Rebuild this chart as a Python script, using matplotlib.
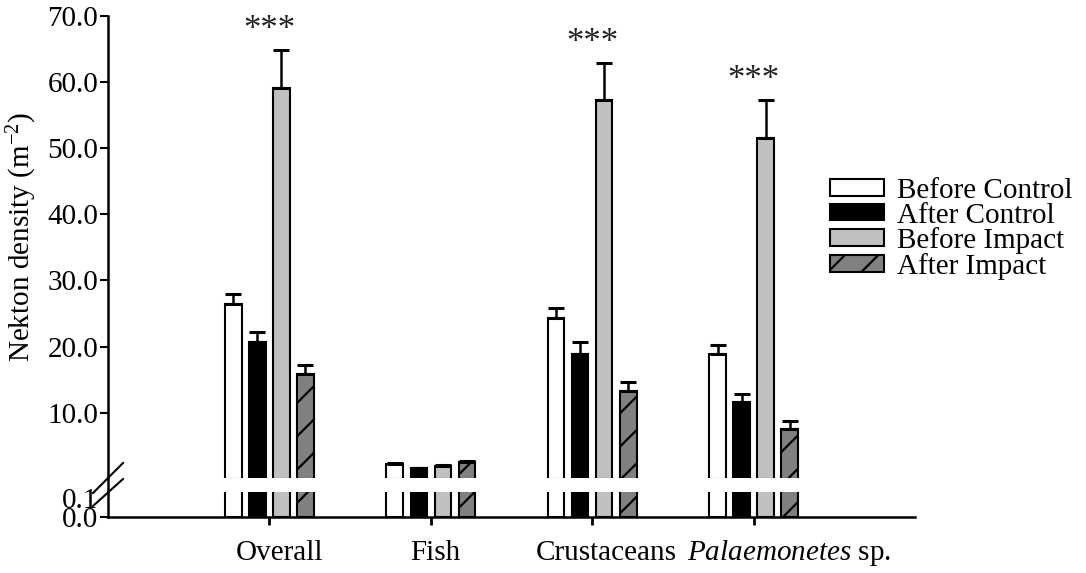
#!/usr/bin/env python
'''
nekton density before/after, control vs impact, with a broken y axis
'''
import matplotlib
matplotlib.use('Agg')
import matplotlib.pyplot as plt
from matplotlib.patches import Patch
from matplotlib.lines import Line2D
from numpy import arange, zeros

plt.rcParams['font.family'] = ['Liberation Serif', 'DejaVu Serif']
plt.rcParams['mathtext.fontset'] = 'custom'
plt.rcParams['mathtext.rm'] = 'Liberation Serif'
plt.rcParams['mathtext.it'] = 'Liberation Serif:italic'
plt.rcParams['hatch.linewidth'] = 1.6

#%% data
categories = ['Overall', 'Fish', 'Crustaceans', r'$\it{Palaemonetes}$ sp.']
series = ['Before Control', 'After Control', 'Before Impact', 'After Impact']
before_control = [26.5, 2.2, 24.3, 18.9]
before_control_se = [1.5, 0.2, 1.5, 1.4]
after_control = [20.7, 1.6, 18.9, 11.6]
after_control_se = [1.5, 0.1, 1.8, 1.2]
before_impact = [59.1, 2.0, 57.3, 51.5]
before_impact_se = [5.8, 0.15, 5.6, 5.8]
after_impact = [15.8, 2.6, 13.3, 7.5]
after_impact_se = [1.4, 0.15, 1.4, 1.3]
signif = ['***', '', '***', '***']
yticks_top = [10, 20, 30, 40, 50, 60, 70]
yticks_bot = [0.0, 0.1]

vals = [before_control, after_control, before_impact, after_impact]
errs = [before_control_se, after_control_se, before_impact_se, after_impact_se]
faces = ['white', 'black', '#c0c0c0', '#808080']
hatches = [None, None, None, '/']

W, H = 1086, 573
fig = plt.figure(figsize=(W/100, H/100), dpi=100)
def fx(px): return px/W
def fy(py): return 1 - py/H

left, right = fx(108), fx(915)
axt = fig.add_axes([left, fy(478), right-left, fy(16)-fy(478)])
axb = fig.add_axes([left, fy(517), right-left, fy(492)-fy(517)])

x = arange(len(categories))
step, width = 0.149, 0.1025
offs = [-1.5*step, -0.5*step, 0.5*step, 1.5*step]

for ax in (axt, axb):
    for v, f, h, o in zip(vals, faces, hatches, offs):
        ax.bar(x + o, v, width, color=f, edgecolor='black', linewidth=1.5, hatch=h, zorder=2)
    ax.set_xlim(-1, 4)
    for s in ('top', 'right', 'left'):
        ax.spines[s].set_visible(False)
    ax.tick_params(axis='y', direction='out', length=6, width=1.5, labelsize=21, pad=1)

for v, e, o in zip(vals, errs, offs):
    axt.errorbar(x + o, v, yerr=[zeros(len(v)), e], fmt='none', ecolor='black',
                 elinewidth=1.8, capsize=5.5, capthick=2.2, zorder=3)

# significance stars over each group
for i, s in enumerate(signif):
    if not s: continue
    top = max(vi[i] + ei[i] for vi, ei in zip(vals, errs))
    axt.annotate(s, (x[i], top), xytext=(0, 14), textcoords='offset points',
                 ha='center', va='center', fontsize=25, color='#222222')

#%% top (main) axis -- lower limit a hair above 0 so bar bottoms get clipped
axt.set_ylim(0.12, 70)
axt.set_yticks(yticks_top)
axt.set_yticklabels(['{:.1f}'.format(t) for t in yticks_top])
axt.spines['bottom'].set_visible(False)
axt.set_xticks([])
axt.patch.set_alpha(0)

#%% bottom (0-0.1) axis
axb.set_ylim(0, 0.13)
axb.set_yticks(yticks_bot)
axb.set_yticklabels(['{:.1f}'.format(t) for t in yticks_bot])
axb.yaxis.get_major_ticks()[1].tick1line.set_visible(False)
axb.spines['bottom'].set_linewidth(1.8)
axb.set_xticks(x)
axb.set_xticklabels([])
axb.tick_params(axis='x', direction='out', length=6, width=2)
axb.patch.set_alpha(0)

# category labels, nudged like the original
nudge = [0.06, 0.025, 0.09, 0.22]
for xi, c, n in zip(x, categories, nudge):
    axb.text(xi + n, -1.45, c, transform=axb.get_xaxis_transform(),
             ha='center', va='center', fontsize=21)

# continuous left spine and the break marks
fig.add_artist(Line2D([left, left], [fy(16), fy(517)], color='black', lw=1.8))
fig.add_artist(Line2D([fx(93), fx(123)], [fy(493), fy(463)], color='black', lw=1.5))
fig.add_artist(Line2D([fx(93), fx(123)], [fy(506), fy(479)], color='black', lw=1.5))

fig.text(fx(22), fy(237), 'Nekton density (m$^{-2}$)', rotation=90,
         ha='center', va='center', fontsize=21)

#%% legend
handles = [Patch(facecolor=f, edgecolor='black', linewidth=1.5, hatch=h)
           for f, h in zip(faces, hatches)]
fig.legend(handles, series, loc='upper left', bbox_to_anchor=(fx(830), fy(178)),
           frameon=False, fontsize=21, handlelength=1.85, handleheight=0.5,
           handletextpad=0.45, labelspacing=-0.05, borderpad=0, borderaxespad=0)

fig.savefig('out.png', dpi=100)
